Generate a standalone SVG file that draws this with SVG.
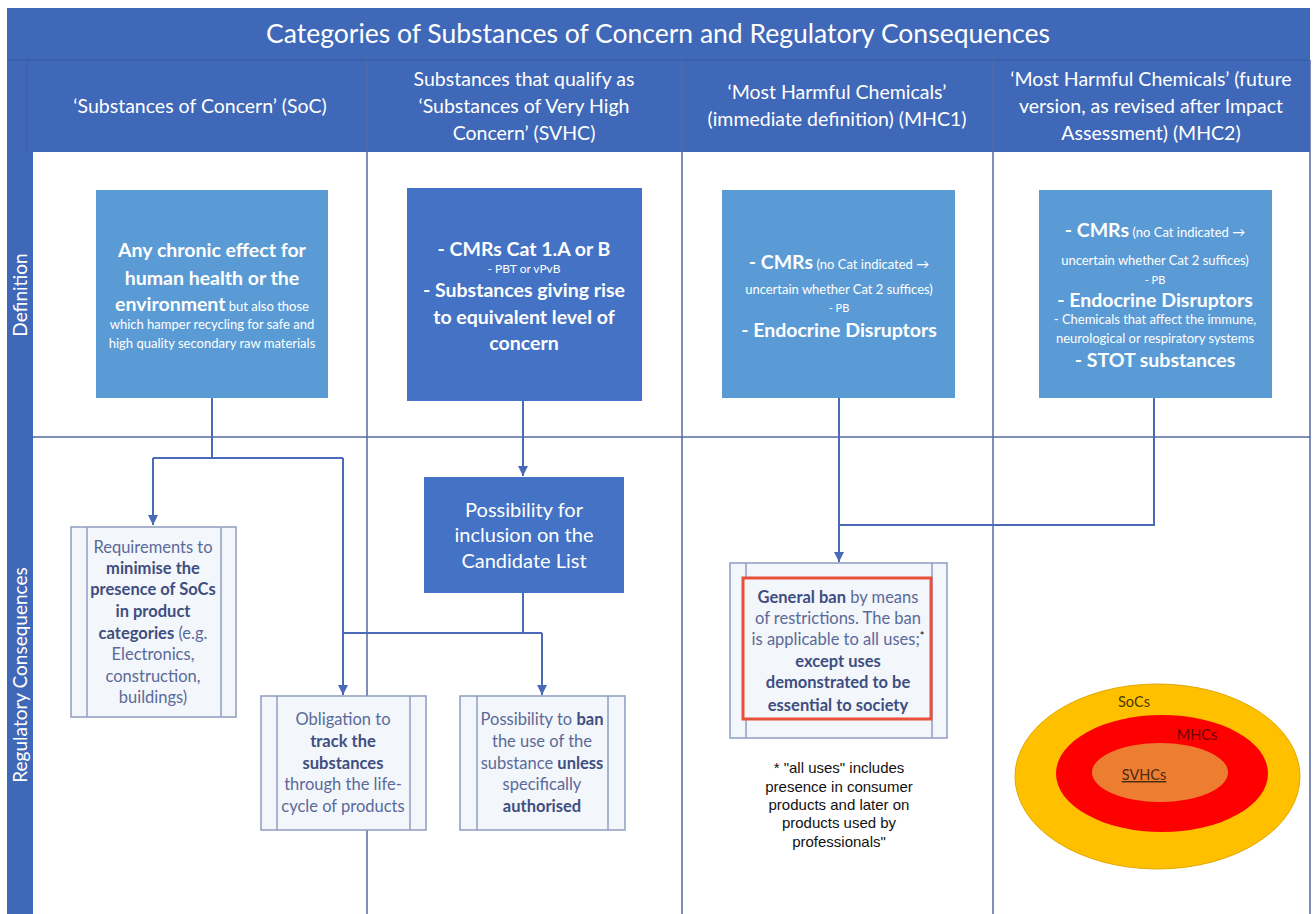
<svg xmlns="http://www.w3.org/2000/svg" width="1314" height="914" viewBox="0 0 1314 914">
<style>
.band{fill:#4068B8}
.grid{stroke:#5468A0;stroke-width:1.5;fill:none}
.hdr{font-family:Lato,"Liberation Sans",sans-serif;fill:#fff;text-anchor:middle}
.bx1{fill:#5B9BD5}
.bx2{fill:#4472C4}
.wt{font-family:Lato,"Liberation Sans",sans-serif;fill:#fff;text-anchor:middle}
.cbox{fill:#F3F6FB;stroke:#8E9CC0;stroke-width:1.5}
.cin{stroke:#8E9CC0;stroke-width:1.5}
.ct{font-family:Lato,"Liberation Sans",sans-serif;fill:#5A6A99;text-anchor:middle;font-size:16.5px}
.b{font-weight:bold;fill:#3E4E80}
.conn{stroke:#4A6AB8;stroke-width:2;fill:none}
.note{font-family:"Liberation Sans",Arial,sans-serif;fill:#111;text-anchor:middle;font-size:15px}
.big{font-size:19.5px;font-weight:bold}
.sm{font-size:13px}
.vl{font-family:Lato,"Liberation Sans",sans-serif;font-size:14.5px;text-anchor:middle}
</style>
<defs>
<marker id="arr" viewBox="0 0 10 10" refX="10" refY="5" markerWidth="5" markerHeight="5" orient="auto" markerUnits="strokeWidth">
<path d="M0,0 L10,5 L0,10 z" fill="#4A6AB8"/>
</marker>
</defs>
<rect width="1314" height="914" fill="#fff"/>
<g id="frame">
<rect class="band" x="7" y="8" width="1303" height="144"/>
<rect class="band" x="7" y="8" width="26" height="906"/>
<line x1="7" y1="60" x2="1310" y2="60" stroke="#3A5DA6" stroke-width="1.5"/>
<line x1="27" y1="60" x2="27" y2="152" stroke="#3A5DA6" stroke-width="1"/>
<line class="grid" x1="33" y1="437" x2="1310" y2="437"/>
<line class="grid" x1="367" y1="60" x2="367" y2="914"/>
<line class="grid" x1="682" y1="60" x2="682" y2="914"/>
<line class="grid" x1="993" y1="60" x2="993" y2="914"/>
<line class="grid" x1="1310" y1="60" x2="1310" y2="914"/>
<text class="hdr" x="658" y="43" font-size="26.5">Categories of Substances of Concern and Regulatory Consequences</text>
<text class="hdr" x="200" y="113" font-size="19.5">‘Substances of Concern’ (SoC)</text>
<text class="hdr" x="524" y="86" font-size="19.5">Substances that qualify as</text>
<text class="hdr" x="524" y="113" font-size="19.5">‘Substances of Very High</text>
<text class="hdr" x="524" y="140" font-size="19.5">Concern’ (SVHC)</text>
<text class="hdr" x="837" y="99" font-size="19.5">‘Most Harmful Chemicals’</text>
<text class="hdr" x="837" y="126" font-size="19.5">(immediate definition) (MHC1)</text>
<text class="hdr" x="1151" y="86" font-size="19.5">‘Most Harmful Chemicals’ (future</text>
<text class="hdr" x="1151" y="113" font-size="19.5">version, as revised after Impact</text>
<text class="hdr" x="1151" y="140" font-size="19.5">Assessment) (MHC2)</text>
<text class="hdr" font-size="19" transform="translate(27,295) rotate(-90)">Definition</text>
<text class="hdr" font-size="19" transform="translate(27,675) rotate(-90)">Regulatory Consequences</text>
</g>
<g id="connectors">
<path class="conn" d="M212,398 V458 M153,458 H343 M153,458 V525" marker-end="url(#arr)"/>
<path class="conn" d="M343,458 V695" marker-end="url(#arr)"/>
<path class="conn" d="M523,401 V476" marker-end="url(#arr)"/>
<path class="conn" d="M523,593 V633 M343,633 H542 M542,633 V695" marker-end="url(#arr)"/>
<path class="conn" d="M1154,398 V525 H839 M839,398 V562" marker-end="url(#arr)"/>
</g>
<g id="def-soc">
<rect class="bx1" x="96" y="190" width="232" height="208"/>
<text class="wt big" x="212" y="257">Any chronic effect for</text>
<text class="wt big" x="212" y="285">human health or the</text>
<text class="wt" x="212" y="311"><tspan class="big">environment</tspan><tspan class="sm"> but also those</tspan></text>
<text class="wt sm" x="212" y="329">which hamper recycling for safe and</text>
<text class="wt sm" x="212" y="348">high quality secondary raw materials</text>
</g>
<g id="def-svhc">
<rect class="bx2" x="407" y="188" width="235" height="213"/>
<text class="wt big" x="524" y="256">- CMRs Cat 1.A or B</text>
<text class="wt" x="524" y="273" font-size="12">- PBT or vPvB</text>
<text class="wt big" x="524" y="297">- Substances giving rise</text>
<text class="wt big" x="524" y="324">to equivalent level of</text>
<text class="wt big" x="524" y="350">concern</text>
</g>
<g id="def-mhc1">
<rect class="bx1" x="722" y="190" width="233" height="208"/>
<text class="wt" x="839" y="269"><tspan class="big">- CMRs</tspan><tspan class="sm"> (no Cat indicated →</tspan></text>
<text class="wt sm" x="839" y="294">uncertain whether Cat 2 suffices)</text>
<text class="wt" x="839" y="312" font-size="11">- PB</text>
<text class="wt big" x="839" y="337">- Endocrine Disruptors</text>
</g>
<g id="def-mhc2">
<rect class="bx1" x="1039" y="190" width="233" height="208"/>
<text class="wt" x="1155" y="237"><tspan class="big">- CMRs</tspan><tspan class="sm"> (no Cat indicated →</tspan></text>
<text class="wt sm" x="1155" y="265">uncertain whether Cat 2 suffices)</text>
<text class="wt" x="1155" y="284" font-size="11">- PB</text>
<text class="wt big" x="1155" y="307">- Endocrine Disruptors</text>
<text class="wt sm" x="1155" y="324">- Chemicals that affect the immune,</text>
<text class="wt sm" x="1155" y="343">neurological or respiratory systems</text>
<text class="wt big" x="1155" y="367">- STOT substances</text>
</g>
<g id="cons-minimise">
<rect class="cbox" x="71" y="527" width="165" height="190"/>
<line class="cin" x1="87" y1="527" x2="87" y2="717"/>
<line class="cin" x1="221" y1="527" x2="221" y2="717"/>
<text class="ct" x="153" y="553">Requirements to</text>
<text class="ct b" x="153" y="574">minimise the</text>
<text class="ct b" x="153" y="595">presence of SoCs</text>
<text class="ct b" x="153" y="617">in product</text>
<text class="ct" x="153" y="639"><tspan class="b">categories</tspan> (e.g.</text>
<text class="ct" x="153" y="660">Electronics,</text>
<text class="ct" x="153" y="682">construction,</text>
<text class="ct" x="153" y="703">buildings)</text>
</g>
<g id="cons-track">
<rect class="cbox" x="261" y="696" width="165" height="134"/>
<line class="cin" x1="277" y1="696" x2="277" y2="830"/>
<line class="cin" x1="410" y1="696" x2="410" y2="830"/>
<text class="ct" x="343" y="725">Obligation to</text>
<text class="ct b" x="343" y="747">track the</text>
<text class="ct b" x="343" y="769">substances</text>
<text class="ct" x="343" y="790">through the life-</text>
<text class="ct" x="343" y="812">cycle of products</text>
</g>
<g id="cons-candidate">
<rect class="bx2" x="424" y="477" width="200" height="116"/>
<text class="wt" x="524" y="517" font-size="20">Possibility for</text>
<text class="wt" x="524" y="542" font-size="20">inclusion on the</text>
<text class="wt" x="524" y="568" font-size="20">Candidate List</text>
</g>
<g id="cons-ban">
<rect class="cbox" x="460" y="696" width="165" height="134"/>
<line class="cin" x1="477" y1="696" x2="477" y2="830"/>
<line class="cin" x1="608" y1="696" x2="608" y2="830"/>
<text class="ct" x="542" y="725">Possibility to <tspan class="b">ban</tspan></text>
<text class="ct" x="542" y="747">the use of the</text>
<text class="ct" x="542" y="769">substance <tspan class="b">unless</tspan></text>
<text class="ct" x="542" y="790">specifically</text>
<text class="ct b" x="542" y="812">authorised</text>
</g>
<g id="cons-general-ban">
<rect class="cbox" x="730" y="563" width="217" height="175"/>
<line class="cin" x1="746" y1="563" x2="746" y2="738"/>
<line class="cin" x1="932" y1="563" x2="932" y2="738"/>
<rect x="743" y="578" width="188" height="141" fill="#F3F6FB" stroke="#E8503A" stroke-width="3"/>
<text class="ct" x="838" y="603" font-size="17"><tspan class="b">General ban</tspan> by means</text>
<text class="ct" x="838" y="624" font-size="17">of restrictions. The ban</text>
<text class="ct" x="838" y="645" font-size="17">is applicable to all uses;<tspan fill="#000" font-size="11" dy="-5">*</tspan></text>
<text class="ct b" x="838" y="667" font-size="17">except uses</text>
<text class="ct b" x="838" y="688" font-size="17">demonstrated to be</text>
<text class="ct b" x="838" y="711" font-size="17">essential to society</text>
</g>
<g id="note">
<text class="note" x="839" y="773">* "all uses" includes</text>
<text class="note" x="839" y="792">presence in consumer</text>
<text class="note" x="839" y="810">products and later on</text>
<text class="note" x="839" y="828">products used by</text>
<text class="note" x="839" y="847">professionals"</text>
</g>
<g id="venn">
<ellipse cx="1157.5" cy="776.5" rx="142.5" ry="92.5" fill="#FFC000" stroke="#E0A800" stroke-width="1"/>
<ellipse cx="1162" cy="773.5" rx="106" ry="58.5" fill="#FF0000"/>
<ellipse cx="1160" cy="772.5" rx="68" ry="29.5" fill="#ED7D31"/>
<text class="vl" x="1134" y="707" fill="#4A3A00">SoCs</text>
<text class="vl" x="1197" y="740" fill="#6A0000">MHCs</text>
<text class="vl" x="1144" y="780" fill="#4A2A10" text-decoration="underline">SVHCs</text>
</g>
</svg>
